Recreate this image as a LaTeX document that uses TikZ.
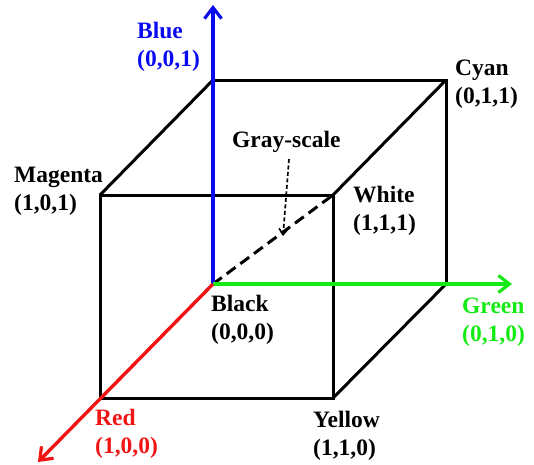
\documentclass[tikz,border=0pt]{standalone}
\usepackage{fontspec}
\setmainfont{Liberation Serif}
\usetikzlibrary{arrows.meta}
\definecolor{cBlue}{RGB}{10,10,240}
\definecolor{cGreen}{RGB}{20,235,20}
\definecolor{cRed}{RGB}{240,20,20}
\tikzset{
  edge/.style={line width=3pt, black},
  axis/.style={line width=3.4pt, -{Straight Barb[length=11pt,width=17pt,line width=3.2pt]}},
  lbl/.style={anchor=base west, inner sep=0pt, font=\fontsize{23.5}{28}\selectfont\bfseries},
  gsarrow/.style={line width=1.7pt, dash pattern=on 4pt off 2.5pt, -{Straight Barb[length=6pt,width=9pt,line width=1.6pt]}},
  diag/.style={line width=3pt, dash pattern=on 11pt off 6pt},
}
\newcommand{\twol}[2]{\begin{tabular}[t]{@{}l@{}}#1\\#2\end{tabular}}
\begin{document}
\begin{tikzpicture}[x=1pt,y=-1pt]
\useasboundingbox (0,0) rectangle (534,464);
% corners
\coordinate (O) at (213,284);
\coordinate (B) at (213,80);
\coordinate (C) at (446,80);
\coordinate (G) at (446,284);
\coordinate (M) at (100,195);
\coordinate (W) at (333,195);
\coordinate (R) at (100,398);
\coordinate (Y) at (333,398);
\coordinate (Btip) at (213,5);
\coordinate (Gtip) at (512,284);
\coordinate (Rtip) at (38,462);
\coordinate (gsS) at (289,159);
\coordinate (gsE) at (283,236);
% cube edges
\draw[edge] (B) -- (C) -- (G);
\draw[edge] (B) -- (M);
\draw[edge] (C) -- (W);
\draw[edge] (G) -- (Y);
\draw[edge] (M) -- (W) -- (Y) -- (R) -- cycle;
% gray-scale diagonal
\draw[diag] (O) -- (W);
% axes
\draw[axis, cBlue] (O) -- (Btip);
\draw[axis, cGreen] (O) -- (Gtip);
\draw[axis, cRed] (O) -- (Rtip);
% labels
\node[lbl, text=cBlue] (lB) at (137,38) {\twol{Blue}{(0,0,1)}};
\node[lbl] (lC) at (455,75) {\twol{Cyan}{(0,1,1)}};
\node[lbl] (lM) at (14,182) {\twol{Magenta}{(1,0,1)}};
\node[lbl] (lGS) at (232,147) {Gray-scale};
\node[lbl] (lW) at (353,202) {\twol{White}{(1,1,1)}};
\node[lbl] (lK) at (211,311) {\twol{Black}{(0,0,0)}};
\node[lbl, text=cGreen] (lG) at (462,313) {\twol{Green}{(0,1,0)}};
\node[lbl, text=cRed] (lR) at (95,425) {\twol{Red}{(1,0,0)}};
\node[lbl] (lY) at (313,427) {\twol{Yellow}{(1,1,0)}};
\draw[gsarrow] (gsS) -- (gsE);
\end{tikzpicture}
\end{document}
